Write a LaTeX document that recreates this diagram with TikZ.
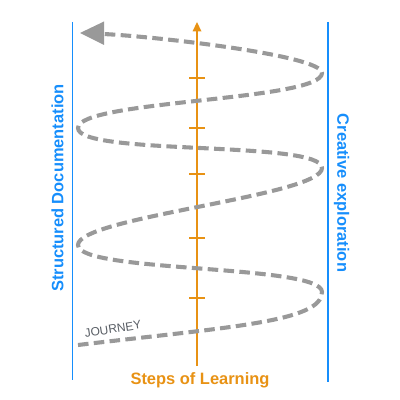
\documentclass[tikz,border=0pt]{standalone}
\usepackage{fontspec}
\setmainfont{Liberation Sans}
\usetikzlibrary{arrows.meta}
\definecolor{bl}{RGB}{22,142,252}
\definecolor{org}{RGB}{232,146,20}
\definecolor{gr}{RGB}{153,153,153}
\definecolor{jt}{RGB}{88,93,100}
\begin{document}
\begin{tikzpicture}[x=0.025cm,y=-0.025cm,
  lbl/.style={font=\bfseries\fontsize{11.7}{14}\selectfont, inner sep=0},
  tickline/.style={org, line width=1.1pt},
  sideline/.style={bl, line width=1pt},
  journeypath/.style={gr, line width=2.9pt, dash pattern=on 7.5pt off 3.8pt}]
\useasboundingbox (0,0) rectangle (400,400);
\coordinate (bl1) at (72.5,22); \coordinate (bl2) at (72.5,380);
\coordinate (br1) at (328,22); \coordinate (br2) at (328,382);
\draw[sideline] (bl1) -- (bl2);
\draw[sideline] (br1) -- (br2);
\coordinate (ax0) at (197,366); \coordinate (ax1) at (197,30);
\draw[tickline] (ax0) -- (ax1);
\fill[org] (197,22) -- (201.5,31.5) -- (192.5,31.5) -- cycle;
\foreach \ty in {78,128,174,238,298} \draw[tickline] (189,\ty) -- (205,\ty);
\draw[journeypath] (78,345) .. controls (228,327) and (322,322) .. (322,292)
  .. controls (322,264) and (78,273) .. (78,245)
  .. controls (78,217) and (322,196) .. (322,168)
  .. controls (322,140) and (78,156) .. (78,128)
  .. controls (78,100) and (322,101) .. (322,73)
  .. controls (322,55) and (150,36) .. (103,34);
\fill[gr] (80,33) -- (104,21.5) -- (104,45) -- cycle;
\node[lbl, bl, rotate=90] (sd) at (57.5,188) {Structured Documentation};
\node[lbl, bl, rotate=-90] (ce) at (341.5,193) {Creative exploration};
\node[lbl, org] (sl) at (200,380) {Steps of Learning};
\node[font=\fontsize{8.5}{10}\selectfont, jt, rotate=8.7, inner sep=0] (jn) at (113,329) {JOURNEY};
\end{tikzpicture}
\end{document}
